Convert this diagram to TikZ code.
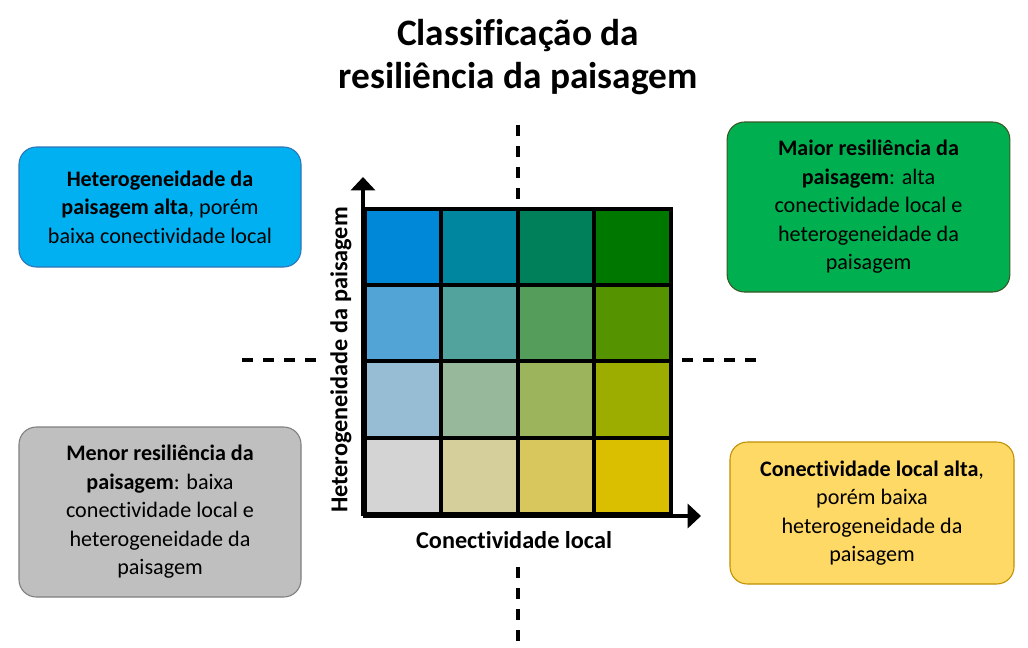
\documentclass[tikz,border=0pt]{standalone}
\usepackage{fontspec}
\setmainfont{Carlito}[Ligatures=NoCommon]
\usetikzlibrary{arrows.meta}
\definecolor{bluebox}{HTML}{00B0F0}
\definecolor{blueline}{HTML}{2E75B6}
\definecolor{greenbox}{HTML}{00B050}
\definecolor{greenline}{HTML}{385723}
\definecolor{graybox}{HTML}{BFBFBF}
\definecolor{grayline}{HTML}{7F7F7F}
\definecolor{yellowbox}{HTML}{FFD966}
\definecolor{yellowline}{HTML}{BF9000}
\definecolor{cA1}{HTML}{0088D8}
\definecolor{cA2}{HTML}{00869F}
\definecolor{cA3}{HTML}{00805A}
\definecolor{cA4}{HTML}{007800}
\definecolor{cB1}{HTML}{52A3D6}
\definecolor{cB2}{HTML}{52A29E}
\definecolor{cB3}{HTML}{559D5B}
\definecolor{cB4}{HTML}{559400}
\definecolor{cC1}{HTML}{97BDD5}
\definecolor{cC2}{HTML}{98B89C}
\definecolor{cC3}{HTML}{9CB45B}
\definecolor{cC4}{HTML}{9CAD00}
\definecolor{cD1}{HTML}{D4D4D4}
\definecolor{cD2}{HTML}{D5CF9C}
\definecolor{cD3}{HTML}{D7C75C}
\definecolor{cD4}{HTML}{D9BF00}
\begin{document}
\begin{tikzpicture}[x=0.75pt,y=-0.75pt,
  quadbox/.style={rounded corners=13pt, line width=0.8pt, align=center, inner sep=0pt,
    font=\fontsize{16.6}{21.4}\selectfont},
  cell/.style={draw=black, line width=3pt, minimum width=57.4pt, minimum height=57.2pt, inner sep=0pt},
  axisline/.style={line width=3pt, -{Triangle[width=18pt,length=10pt]}},
  divider/.style={line width=2.6pt, dash pattern=on 8.25pt off 7.5pt},
  axislabel/.style={font=\fontsize{18.2}{21}\selectfont\bfseries, inner sep=0pt}]
\useasboundingbox (0,0) rectangle (1028,647);

% title
\node[align=center, font=\fontsize{28}{32}\selectfont\bfseries, inner sep=0pt] (title) at (518,57)
  {Classificação da\\resiliência da paisagem};

% dividers
\coordinate (vt1) at (518,125); \coordinate (vt2) at (518,201);
\coordinate (vb1) at (518,567); \coordinate (vb2) at (518,643);
\coordinate (hl1) at (242,360); \coordinate (hl2) at (318,360);
\coordinate (hr1) at (682,360); \coordinate (hr2) at (758,360);
\draw[divider] (vt1) -- (vt2);
\draw[divider] (vb1) -- (vb2);
\draw[divider] (hl1) -- (hl2);
\draw[divider] (hr1) -- (hr2);

% grid cells
\node[cell, fill=cA1] (a1) at (403.25,247.1) {};
\node[cell, fill=cA2] (a2) at (479.75,247.1) {};
\node[cell, fill=cA3] (a3) at (556.25,247.1) {};
\node[cell, fill=cA4] (a4) at (632.75,247.1) {};
\node[cell, fill=cB1] (b1) at (403.25,323.4) {};
\node[cell, fill=cB2] (b2) at (479.75,323.4) {};
\node[cell, fill=cB3] (b3) at (556.25,323.4) {};
\node[cell, fill=cB4] (b4) at (632.75,323.4) {};
\node[cell, fill=cC1] (c1) at (403.25,399.6) {};
\node[cell, fill=cC2] (c2) at (479.75,399.6) {};
\node[cell, fill=cC3] (c3) at (556.25,399.6) {};
\node[cell, fill=cC4] (c4) at (632.75,399.6) {};
\node[cell, fill=cD1] (d1) at (403.25,475.9) {};
\node[cell, fill=cD2] (d2) at (479.75,475.9) {};
\node[cell, fill=cD3] (d3) at (556.25,475.9) {};
\node[cell, fill=cD4] (d4) at (632.75,475.9) {};

% axes
\coordinate (origin) at (363,516);
\coordinate (ytip) at (363,177);
\coordinate (xtip) at (701,516);
\draw[axisline] (origin) -- (ytip);
\draw[axisline] (origin) -- (xtip);

\node[axislabel] (xlabel) at (514,540) {Conectividade local};
\node[axislabel, rotate=90] (ylabel) at (341,360) {Heterogeneidade da paisagem};

% quadrant boxes
\node[quadbox, draw=blueline, fill=bluebox, minimum width=211.5pt, minimum height=90pt] (blue) at (160,207)
  {\textbf{Heterogeneidade da}\\\textbf{paisagem alta}, porém\\baixa conectividade local};
\node[quadbox, draw=greenline, fill=greenbox, minimum width=212pt, minimum height=127.5pt] (green) at (868.5,207)
  {\textbf{Maior resiliência da}\\\textbf{paisagem}: alta\\conectividade local e\\heterogeneidade da\\paisagem};
\node[quadbox, draw=grayline, fill=graybox, minimum width=211.5pt, minimum height=127.5pt] (gray) at (160,512)
  {\textbf{Menor resiliência da}\\\textbf{paisagem}: baixa\\conectividade local e\\heterogeneidade da\\paisagem};
\node[quadbox, draw=yellowline, fill=yellowbox, minimum width=213pt, minimum height=106.5pt] (yellow) at (872,513)
  {\textbf{Conectividade local alta},\\porém baixa\\heterogeneidade da\\paisagem};
\end{tikzpicture}
\end{document}
